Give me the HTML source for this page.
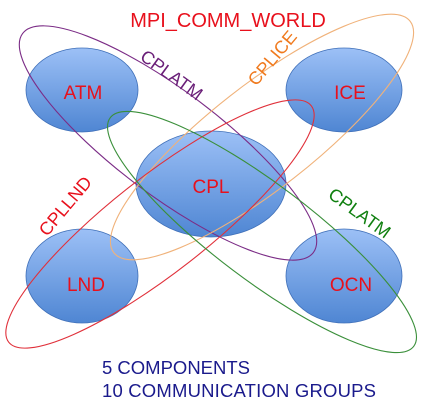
<!DOCTYPE html>
<html><head><style>html,body{margin:0;padding:0;background:#fff}</style></head><body>
<svg width="424" height="406" viewBox="0 0 424 406" xmlns="http://www.w3.org/2000/svg" font-family="Liberation Sans, sans-serif">
<defs>
<linearGradient id="g" x1="0" y1="0" x2="0" y2="1">
<stop offset="0" stop-color="#9cc0f6"/><stop offset="1" stop-color="#4f86d3"/>
</linearGradient>
</defs>
<g stroke="#3f6fb8" stroke-width="0.8" fill="url(#g)">
<ellipse cx="82" cy="90" rx="56" ry="42"/>
<ellipse cx="344" cy="90" rx="58" ry="42"/>
<ellipse cx="211" cy="184" rx="75" ry="53"/>
<ellipse cx="82" cy="276" rx="56" ry="47"/>
<ellipse cx="344" cy="276" rx="58" ry="47"/>
</g>
<g fill="#e8101c" font-size="19" text-anchor="middle">
<text x="83" y="99">ATM</text>
<text x="350" y="99">ICE</text>
<text x="211" y="193">CPL</text>
<text x="86" y="291">LND</text>
<text x="351" y="291">OCN</text>
</g>
<g fill="none" stroke-width="1.1">
<ellipse cx="168" cy="143" rx="182" ry="52" transform="rotate(37 168 143)" stroke="#7b2c86"/>
<ellipse cx="262" cy="137" rx="188" ry="52" transform="rotate(-38 262 137)" stroke="#f0b27a"/>
<ellipse cx="160" cy="224" rx="192" ry="48" transform="rotate(-38 160 224)" stroke="#e0303a"/>
<ellipse cx="262" cy="232" rx="190" ry="48" transform="rotate(37 262 232)" stroke="#3a8f3a"/>
</g>
<text x="228" y="27" fill="#e8101c" font-size="20" text-anchor="middle">MPI_COMM_WORLD</text>
<text transform="translate(168,80) rotate(36)" fill="#6a1f78" font-size="18" text-anchor="middle">CPLATM</text>
<text transform="translate(277,62) rotate(-50)" fill="#f07a1e" font-size="18" text-anchor="middle">CPLICE</text>
<text transform="translate(70,210) rotate(-50)" fill="#e8101c" font-size="18" text-anchor="middle">CPLLND</text>
<text transform="translate(356,218) rotate(36)" fill="#108010" font-size="18" text-anchor="middle">CPLATM</text>
<g fill="#1a1a8c" font-size="18.5">
<text x="102" y="374">5 COMPONENTS</text>
<text x="102" y="397" textLength="274">10 COMMUNICATION GROUPS</text>
</g>
</svg>
</body></html>
